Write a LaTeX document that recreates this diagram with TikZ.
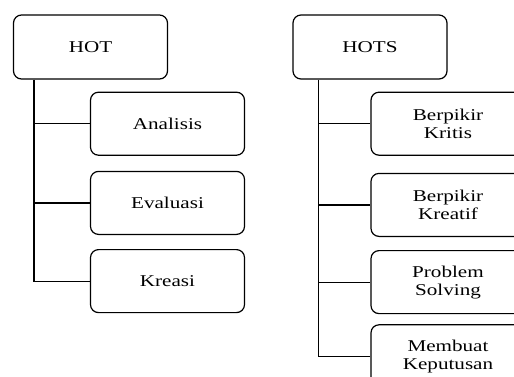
\documentclass[tikz,border=0pt]{standalone}
\usepackage{fontspec}
\setmainfont{Liberation Serif}[FakeStretch=1.28]
\usetikzlibrary{positioning}

\begin{document}
\begin{tikzpicture}[x=1pt, y=-1pt, font=\fontsize{16.5}{18}\selectfont,
  box/.style={draw, line width=1.2pt, rounded corners=8pt, minimum width=154pt, minimum height=63pt, inner sep=2pt, align=center, fill=white},
  link/.style={line width=1.2pt}]
\useasboundingbox (0,0) rectangle (514,376);
\clip (0,0) rectangle (514,376);
% left tree
\node[box, minimum height=64pt] (hot) at (90.5,47) {HOT};
\node[box, below right=12pt and 77pt of hot.south west] (analisis) {Analisis};
\node[box, below=15pt of analisis] (evaluasi) {Evaluasi};
\node[box, below=14pt of evaluasi] (kreasi) {Kreasi};
\draw[link] ([xshift=21pt]hot.south west) coordinate (hotbus) |- (kreasi.west);
\draw[link] (hotbus |- analisis.west) -- (analisis.west);
\draw[link] (hotbus |- evaluasi.west) -- (evaluasi.west);
% right tree
\node[box, minimum height=64pt] (hots) at (370,47) {HOTS};
\node[box, below right=12pt and 78pt of hots.south west] (kritis) {Berpikir\\Kritis};
\node[box, below=17pt of kritis] (kreatif) {Berpikir\\Kreatif};
\node[box, below=13pt of kreatif] (problem) {Problem\\Solving};
\node[box, below=10pt of problem] (keputusan) {Membuat\\Keputusan};
\draw[link] ([xshift=26pt]hots.south west) coordinate (hotsbus) |- (keputusan.west);
\draw[link] (hotsbus |- kritis.west) -- (kritis.west);
\draw[link] (hotsbus |- kreatif.west) -- (kreatif.west);
\draw[link] (hotsbus |- problem.west) -- (problem.west);
\end{tikzpicture}
\end{document}
